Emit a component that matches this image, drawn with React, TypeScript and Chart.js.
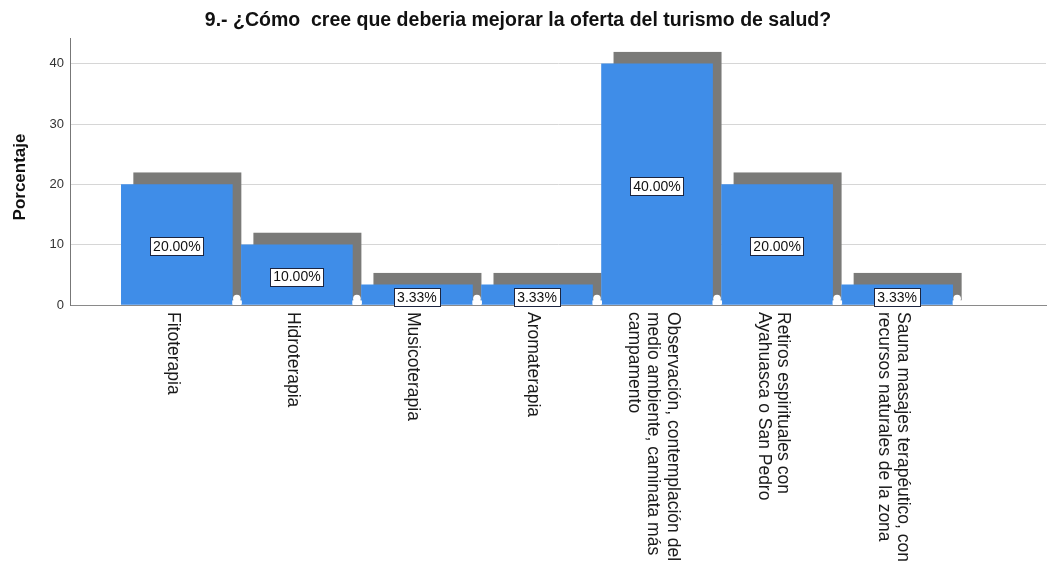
import React, { useEffect, useRef } from "react";
import { Chart, registerables } from "chart.js";

Chart.register(...registerables);

const TITLE = "9.- ¿Cómo  cree que deberia mejorar la oferta del turismo de salud?";
const Y_TITLE = "Porcentaje";
const CATEGORIES: string[][] = [
  ["Fitoterapia"],
  ["Hidroterapia"],
  ["Musicoterapia"],
  ["Aromaterapia"],
  ["Observación, contemplación del", "medio ambiente, caminata más", "campamento"],
  ["Retiros espirituales con", "Ayahuasca o San Pedro"],
  ["Sauna masajes terapéutico, con", "recursos naturales de la zona"],
];
const VALUES = [20, 10, 3.33, 3.33, 40, 20, 3.33];
const VALUE_LABELS = ["20.00%", "10.00%", "3.33%", "3.33%", "40.00%", "20.00%", "3.33%"];
const Y_MIN = 0;
const Y_MAX = 44.3;
const Y_STEP = 10;

const BLUE = "#3f8de8";
const SHADOW = "#7a7a78";
const FONT = "'Liberation Sans', Arial, sans-serif";

const decor = {
  id: "decor",
  beforeDatasetsDraw(chart: any) {
    const ctx = chart.ctx;
    const meta = chart.getDatasetMeta(0);
    ctx.save();
    ctx.fillStyle = SHADOW;
    meta.data.forEach((bar: any) => {
      const { x, y, base, width } = bar.getProps(["x", "y", "base", "width"], true);
      const l = x - width / 2;
      const r = x + width / 2;
      ctx.fillRect(l + 12, y - 12, r + 9 - (l + 12), base - 4 - (y - 12));
    });
    ctx.restore();
  },
  afterDatasetsDraw(chart: any) {
    const ctx = chart.ctx;
    const meta = chart.getDatasetMeta(0);
    ctx.save();
    meta.data.forEach((bar: any, i: number) => {
      const { x, y, base, width } = bar.getProps(["x", "y", "base", "width"], true);
      const r = x + width / 2;
      // small white blob at bottom of shadow strip
      ctx.fillStyle = "#ffffff";
      ctx.beginPath();
      ctx.arc(r + 4.5, base - 6, 3.8, 0, Math.PI * 2);
      ctx.fill();
      ctx.fillRect(r, base - 4, 9.5, 4);
      // value label box
      ctx.font = `14px ${FONT}`;
      const txt = VALUE_LABELS[i];
      const tw = ctx.measureText(txt).width;
      const cy = (y + base) / 2 + 2;
      const bw = tw + 6;
      const bh = 18;
      ctx.fillStyle = "#ffffff";
      ctx.fillRect(Math.round(x - bw / 2) + 0.5, Math.round(cy - bh / 2) + 0.5, Math.round(bw), bh);
      ctx.strokeStyle = "#1c2540";
      ctx.lineWidth = 1;
      ctx.strokeRect(Math.round(x - bw / 2) + 0.5, Math.round(cy - bh / 2) + 0.5, Math.round(bw), bh);
      ctx.fillStyle = "#111111";
      ctx.textAlign = "center";
      ctx.textBaseline = "middle";
      ctx.fillText(txt, x, cy + 1);
    });
    ctx.restore();
  },
  afterDraw(chart: any) {
    const ctx = chart.ctx;
    const meta = chart.getDatasetMeta(0);
    ctx.save();
    // title
    ctx.fillStyle = "#111111";
    ctx.font = `bold 19.5px ${FONT}`;
    ctx.textAlign = "center";
    ctx.textBaseline = "middle";
    ctx.fillText(TITLE, 518, 21);
    // y title
    ctx.save();
    ctx.translate(20, 177);
    ctx.rotate(-Math.PI / 2);
    ctx.font = `bold 17px ${FONT}`;
    ctx.fillText(Y_TITLE, 0, 0);
    ctx.restore();
    // category labels, rotated clockwise
    const lineH = 19.5;
    ctx.font = `17.5px ${FONT}`;
    ctx.fillStyle = "#1a1a1a";
    meta.data.forEach((bar: any, i: number) => {
      const { x } = bar.getProps(["x"], true);
      const lines = CATEGORIES[i];
      ctx.save();
      ctx.translate(x - 4, chart.chartArea.bottom + 7);
      ctx.rotate(Math.PI / 2);
      ctx.textAlign = "left";
      ctx.textBaseline = "middle";
      lines.forEach((ln, k) => {
        ctx.fillText(ln, 0, (k - (lines.length - 1) / 2) * lineH);
      });
      ctx.restore();
    });
    ctx.restore();
  },
};

export default function App() {
  const ref = useRef<HTMLCanvasElement | null>(null);
  useEffect(() => {
    if (!ref.current) return;
    const chart = new Chart(ref.current, {
      type: "bar",
      data: {
        datasets: [
          {
            data: VALUES.map((v, i) => ({ x: i, y: v })),
            backgroundColor: BLUE,
            borderWidth: 0,
            barThickness: 111,
          },
        ],
      },
      options: {
        responsive: false,
        animation: false,
        devicePixelRatio: 1,
        layout: { padding: { left: 0, right: 2, top: 38, bottom: 0 } },
        plugins: {
          legend: { display: false },
          tooltip: { enabled: false },
          title: { display: false },
        },
        scales: {
          x: {
            type: "linear",
            offset: false,
            min: -0.89,
            max: 7.24,
            ticks: { display: false, includeBounds: false },
            grid: { display: false, drawTicks: false, offset: false },
            border: { display: true, color: "#8a8a8a", width: 1 },
            afterFit: (s: any) => {
              s.height = 262;
            },
          },
          y: {
            min: Y_MIN,
            max: Y_MAX,
            ticks: {
              stepSize: Y_STEP,
              includeBounds: false,
              color: "#333333",
              padding: 6,
              font: { family: FONT, size: 13 },
            },
            grid: { color: "#d6d6d6", drawTicks: false },
            border: { display: true, color: "#777777", width: 1 },
            afterFit: (s: any) => {
              s.width = 70;
            },
          },
        },
      },
      plugins: [decor],
    });
    return () => chart.destroy();
  }, []);
  return (
    <div style={{ position: "absolute", left: 0, top: 0, width: 1048, height: 567, background: "#fff" }}>
      <canvas ref={ref} width={1048} height={567} style={{ display: "block" }} />
    </div>
  );
}
